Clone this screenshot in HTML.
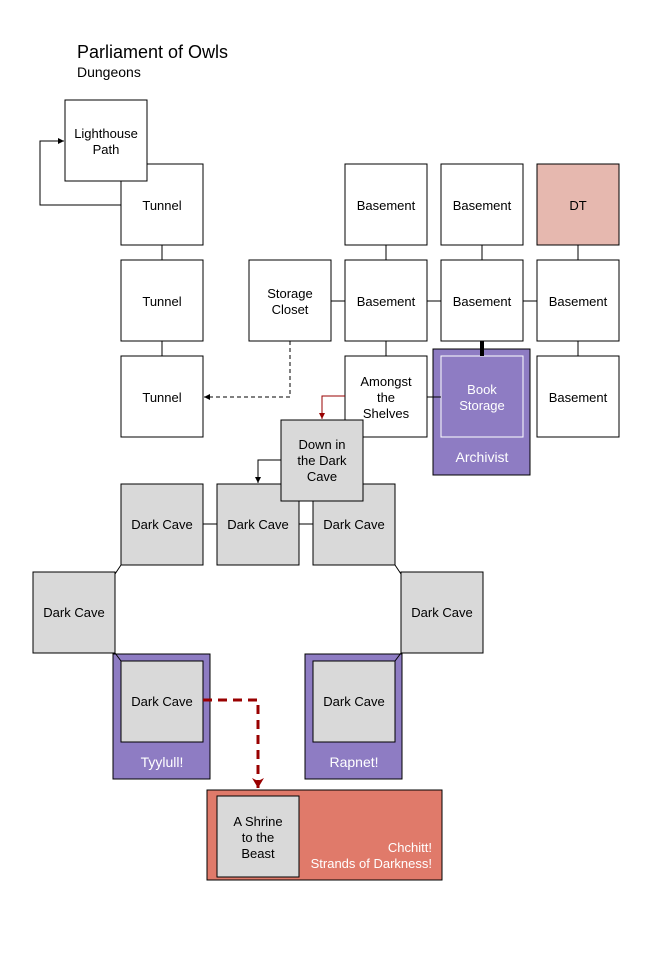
<!DOCTYPE html>
<html><head><meta charset="utf-8"><style>
body{margin:0;background:#fff}
svg{display:block}
text{font-family:"Liberation Sans",sans-serif;font-size:13px;fill:#000;text-anchor:middle}
.b{fill:#fff;stroke:#000;stroke-width:1}
.g{fill:#d9d9d9;stroke:#000;stroke-width:1}
.l{stroke:#000;stroke-width:1;fill:none}
.w{fill:#fff}
</style></head><body>
<svg width="672" height="960" viewBox="0 0 672 960">
<defs>
<marker id="a" markerWidth="8" markerHeight="8" refX="6" refY="3" orient="auto" markerUnits="userSpaceOnUse"><path d="M0,0 L6,3 L0,6 Z" fill="#000"/></marker>
<marker id="r" markerWidth="8" markerHeight="8" refX="6" refY="3" orient="auto" markerUnits="userSpaceOnUse"><path d="M0,0 L6,3 L0,6 Z" fill="#990000"/></marker>
<marker id="R" markerWidth="14" markerHeight="14" refX="10" refY="6" orient="auto" markerUnits="userSpaceOnUse"><path d="M0,0 L10,6 L0,12 L3,6 Z" fill="#990000"/></marker>
</defs>
<text x="77" y="58" style="font-size:18px;text-anchor:start">Parliament of Owls</text>
<text x="77" y="77" style="font-size:14px;text-anchor:start">Dungeons</text>

<!-- connectors -->
<path class="l" d="M121,205 H40 V141 H64" marker-end="url(#a)"/>
<path class="l" d="M162,245 V260 M162,341 V356 M386,245 V260 M482,245 V260 M578,245 V260 M578,341 V356 M386,341 V356 M331,301 H345 M427,301 H441 M523,301 H537 M427,397 H441"/>
<path d="M482,341 V356" stroke="#000" stroke-width="4"/>
<path class="l" d="M290,341 V397 H204" stroke-dasharray="4,3" marker-end="url(#a)"/>

<rect class="b" x="121" y="164" width="82" height="81"/>
<rect class="b" x="65" y="100" width="82" height="81"/>
<text x="106" y="138">Lighthouse</text><text x="106" y="154">Path</text>
<text x="162" y="210">Tunnel</text>
<rect class="b" x="121" y="260" width="82" height="81"/><text x="162" y="306">Tunnel</text>
<rect class="b" x="121" y="356" width="82" height="81"/><text x="162" y="402">Tunnel</text>

<rect class="b" x="345" y="164" width="82" height="81"/><text x="386" y="210">Basement</text>
<rect class="b" x="441" y="164" width="82" height="81"/><text x="482" y="210">Basement</text>
<rect x="537" y="164" width="82" height="81" fill="#e6b8af" stroke="#000"/><text x="578" y="210">DT</text>
<rect class="b" x="249" y="260" width="82" height="81"/><text x="290" y="298">Storage</text><text x="290" y="314">Closet</text>
<rect class="b" x="345" y="260" width="82" height="81"/><text x="386" y="306">Basement</text>
<rect class="b" x="441" y="260" width="82" height="81"/><text x="482" y="306">Basement</text>
<rect class="b" x="537" y="260" width="82" height="81"/><text x="578" y="306">Basement</text>
<rect class="b" x="537" y="356" width="82" height="81"/><text x="578" y="402">Basement</text>

<rect x="433" y="349" width="97" height="126" fill="#8e7cc3" stroke="#000"/>
<rect x="441" y="356" width="82" height="81" fill="none" stroke="#fff"/>
<path d="M482,349 V356" stroke="#000" stroke-width="4"/>
<text class="w" x="482" y="394" style="fill:#fff">Book</text><text x="482" y="410" style="fill:#fff">Storage</text>
<text x="482" y="462" style="fill:#fff;font-size:14px">Archivist</text>
<path class="l" d="M427,397 H441"/>

<rect class="b" x="345" y="356" width="82" height="81"/>
<text x="386" y="386">Amongst</text><text x="386" y="402">the</text><text x="386" y="418">Shelves</text>
<path d="M345,396 H322 V419" fill="none" stroke="#990000" marker-end="url(#r)"/>

<rect class="g" x="121" y="484" width="82" height="81"/><text x="162" y="529">Dark Cave</text>
<rect class="g" x="217" y="484" width="82" height="81"/><text x="258" y="529">Dark Cave</text>
<rect class="g" x="313" y="484" width="82" height="81"/><text x="354" y="529">Dark Cave</text>
<path class="l" d="M203,524 H217 M299,524 H313"/>
<rect class="g" x="281" y="420" width="82" height="81"/>
<text x="322" y="449">Down in</text><text x="322" y="465">the Dark</text><text x="322" y="481">Cave</text>
<path class="l" d="M281,460 H258 V483" marker-end="url(#a)"/>

<rect class="g" x="33" y="572" width="82" height="81"/><text x="74" y="617">Dark Cave</text>
<rect class="g" x="401" y="572" width="82" height="81"/><text x="442" y="617">Dark Cave</text>
<path class="l" d="M121,565 L115,574 M395,565 L401,574"/>

<rect x="113" y="654" width="97" height="125" fill="#8e7cc3" stroke="#000"/>
<rect class="g" x="121" y="661" width="82" height="81"/><text x="162" y="706">Dark Cave</text>
<text x="162" y="767" style="fill:#fff;font-size:14px">Tyylull!</text>
<rect x="305" y="654" width="97" height="125" fill="#8e7cc3" stroke="#000"/>
<rect class="g" x="313" y="661" width="82" height="81"/><text x="354" y="706">Dark Cave</text>
<text x="354" y="767" style="fill:#fff;font-size:14px">Rapnet!</text>
<path class="l" d="M115,653 L121,661 M401,653 L395,661"/>

<rect x="207" y="790" width="235" height="90" fill="#e07a6a" stroke="#000"/>
<rect class="g" x="217" y="796" width="82" height="81"/>
<text x="258" y="826">A Shrine</text><text x="258" y="842">to the</text><text x="258" y="858">Beast</text>
<text x="432" y="852" style="fill:#fff;text-anchor:end">Chchitt!</text>
<text x="432" y="868" style="fill:#fff;text-anchor:end">Strands of Darkness!</text>
<path d="M203,700 H258 V788" fill="none" stroke="#990000" stroke-width="3" stroke-dasharray="9,6" marker-end="url(#R)"/>
</svg>
</body></html>
